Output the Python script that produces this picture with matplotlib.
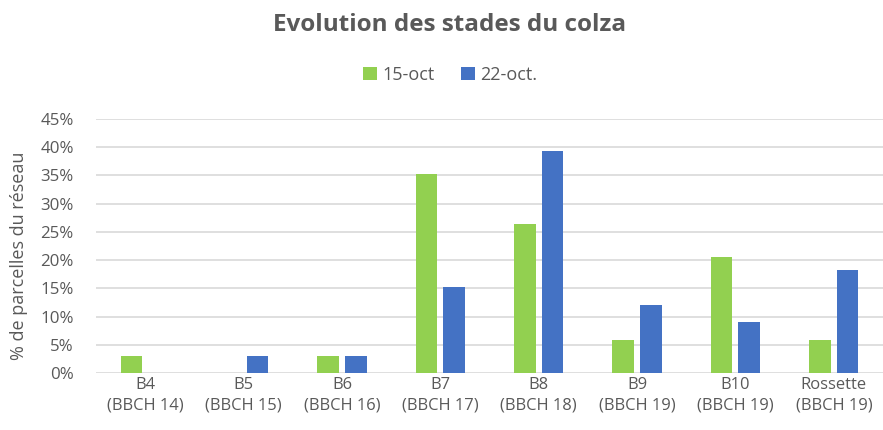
import matplotlib
matplotlib.use("Agg")
import matplotlib.pyplot as plt
import numpy as np

categories = ["B4\n(BBCH 14)", "B5\n(BBCH 15)", "B6\n(BBCH 16)", "B7\n(BBCH 17)",
              "B8\n(BBCH 18)", "B9\n(BBCH 19)", "B10\n(BBCH 19)", "Rossette\n(BBCH 19)"]
series_names = ["15-oct", "22-oct."]
oct15 = [0.0294, 0.0, 0.0294, 0.3529, 0.2647, 0.0588, 0.2059, 0.0588]
oct22 = [0.0, 0.0303, 0.0303, 0.1515, 0.3939, 0.1212, 0.0909, 0.1818]
yticks = [0, 0.05, 0.10, 0.15, 0.20, 0.25, 0.30, 0.35, 0.40, 0.45]

plt.rcParams['font.family'] = ['Open Sans', 'DejaVu Sans']
GREEN = "#92D050"
BLUE = "#4472C4"
TXT = "#595959"
GRID = "#D9D9D9"

fig = plt.figure(figsize=(8.83, 4.30), dpi=100)
ax = fig.add_axes([96/883, 1-373/430, 1-96/883, (373-119)/430])

x = np.arange(len(categories))
w = 0.22
ax.bar(x - 0.14, oct15, w, color=GREEN, label=series_names[0], zorder=3)
ax.bar(x + 0.14, oct22, w, color=BLUE, label=series_names[1], zorder=3)

ax.set_xlim(-0.5, len(categories) - 0.5)
ax.set_ylim(0, 0.45)
ax.set_yticks(yticks)
ax.set_yticklabels([f"{int(round(v*100))}%" for v in yticks], color=TXT, fontsize=12.2)
ax.set_xticks(x)
ax.set_xticklabels(categories, color=TXT, fontsize=11.9, linespacing=1.32)
ax.tick_params(axis='both', length=0)
ax.tick_params(axis='y', pad=16)
ax.tick_params(axis='x', pad=3)
ax.yaxis.grid(True, color=GRID, linewidth=1.2, zorder=0)
for s in ax.spines.values():
    s.set_visible(False)

ax.set_ylabel("% de parcelles du réseau", color=TXT, fontsize=13)
ax.yaxis.set_label_coords(-0.086, 0.46)

fig.text(0.509, 1-25/430, "Evolution des stades du colza", ha='center', va='center',
         fontsize=17.5, fontweight='bold', color=TXT)

leg = fig.legend(loc='center', bbox_to_anchor=(0.51, 1-75/430), ncol=2, frameon=False,
                 fontsize=13, handlelength=0.75, handleheight=0.75, handletextpad=0.3,
                 columnspacing=1.5)
for t in leg.get_texts():
    t.set_color(TXT)

fig.savefig("out.png", dpi=100)
